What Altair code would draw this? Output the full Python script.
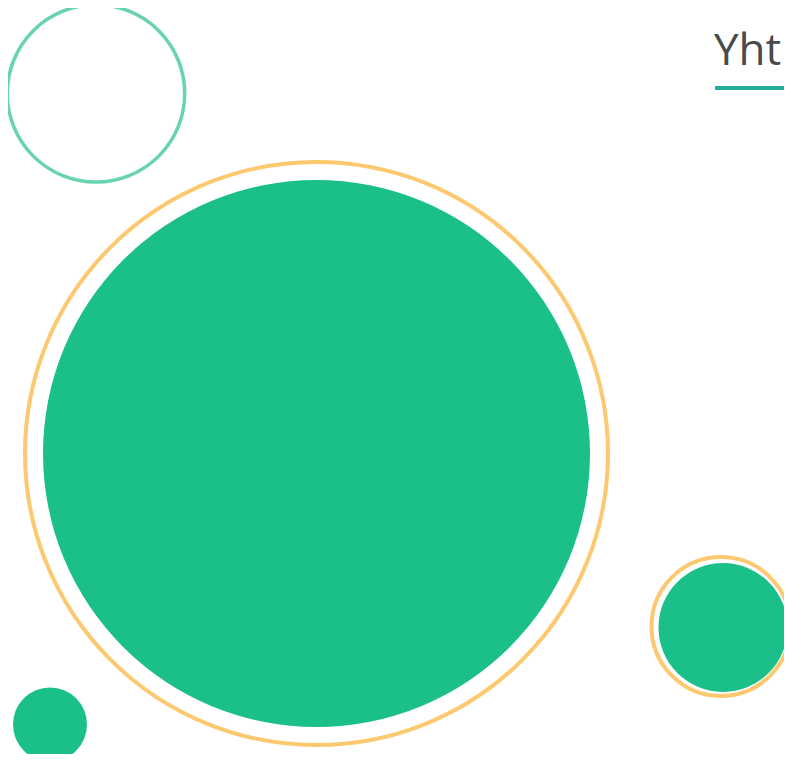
import altair as alt
import pandas as pd

# Bubble data (centre x, centre y, radius)
fill_names = ["Suuri", "Pieni", "Pienin"]
fill_x = [316.5, 723, 50]
fill_y = [453.5, 627.5, 724.5]
fill_r = [273.5, 64.5, 37]

ring_names = ["Suuri rengas", "Pieni rengas", "Ääriviiva"]
ring_x = [316.5, 721, 96]
ring_y = [453.5, 626.5, 93.4]
ring_r = [291.5, 69.5, 88.7]
ring_color = ["#FDC970", "#FDC970", "#68D3AF"]
ring_width = [4, 4, 3.5]

title_text = ["Yht"]

fills = pd.DataFrame({"name": fill_names, "x": fill_x, "y": fill_y, "r": fill_r})
fills["size"] = (2 * fills["r"]) ** 2
rings = pd.DataFrame({"name": ring_names, "x": ring_x, "y": ring_y, "r": ring_r,
                      "color": ring_color, "sw": ring_width})
rings["size"] = (2 * rings["r"]) ** 2

W, H = 776, 746
xs = alt.Scale(domain=[8, 8 + W], range=[0, W])
ys = alt.Scale(domain=[8, 8 + H], range=[0, H])

filled = alt.Chart(fills).mark_point(filled=True, shape="circle", opacity=1,
                                     color="#1ABF89").encode(
    x=alt.X("x:Q", scale=xs, axis=None),
    y=alt.Y("y:Q", scale=ys, axis=None),
    size=alt.Size("size:Q", scale=None, legend=None),
)

ringed = alt.Chart(rings).mark_point(filled=False, shape="circle", opacity=1,
                                     fill=None).encode(
    x=alt.X("x:Q", scale=xs, axis=None),
    y=alt.Y("y:Q", scale=ys, axis=None),
    size=alt.Size("size:Q", scale=None, legend=None),
    stroke=alt.Stroke("color:N", scale=None, legend=None),
    strokeWidth=alt.StrokeWidth("sw:Q", scale=None, legend=None),
)

title = alt.Chart(pd.DataFrame({"t": title_text})).mark_text(
    align="left", baseline="alphabetic", font="Open Sans", fontSize=44,
    color="#4A4A4A"
).encode(text="t:N", x=alt.value(706), y=alt.value(57))

underline = alt.Chart(pd.DataFrame({"t": title_text})).mark_rule(
    color="#22AA9C", strokeWidth=4
).encode(x=alt.value(707), x2=alt.value(800), y=alt.value(80))

chart = alt.layer(ringed, filled, title, underline).properties(
    width=W, height=H, padding=0, background="white",
    autosize=alt.AutoSizeParams(type="none")
).configure_view(stroke=None)

chart.save("out.html", embed_options={"renderer": "svg", "actions": False})
